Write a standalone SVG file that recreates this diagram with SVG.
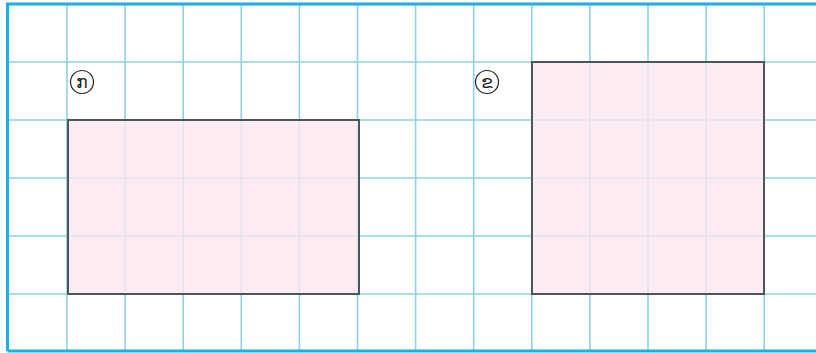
<svg xmlns="http://www.w3.org/2000/svg" width="816" height="353" viewBox="0 0 816 353">
<style>
.g{stroke:#8dd3e0;stroke-width:1.6;fill:none}
.r{fill:#fce6f1;fill-opacity:0.8;stroke:#47575b;stroke-width:2}
.c{fill:#fff;stroke:#222;stroke-width:1.2}
.t{font-family:"DejaVu Sans","Noto Sans",sans-serif;font-size:17px;fill:#222;text-anchor:middle;dominant-baseline:central}
</style>
<rect width="816" height="353" fill="#fff"/>
<g id="grid">
<path class="g" d="M67 4V352M125.1 4V352M183.2 4V352M241.3 4V352M299.4 4V352M357.5 4V352M415.6 4V352M473.7 4V352M531.8 4V352M589.9 4V352M648 4V352M706.1 4V352M764.2 4V352"/>
<path class="g" d="M8 62H816M8 120H816M8 178H816M8 236H816M8 294H816"/>
</g>
<g id="rect-a"><rect class="r" x="68" y="120" width="291" height="174"/></g>
<g id="rect-b"><rect class="r" x="532" y="62" width="232" height="232"/></g>
<g id="label-a"><circle class="c" cx="82" cy="82" r="11.5"/><text class="t" x="82" y="82">ກ</text></g>
<g id="label-b"><circle class="c" cx="487" cy="82" r="11.5"/><text class="t" x="487" y="82">ຂ</text></g>
<g id="frame"><path d="M7.5 351V4H816M7.5 351H816" fill="none" stroke="#19b0e6" stroke-width="3"/></g>
</svg>
